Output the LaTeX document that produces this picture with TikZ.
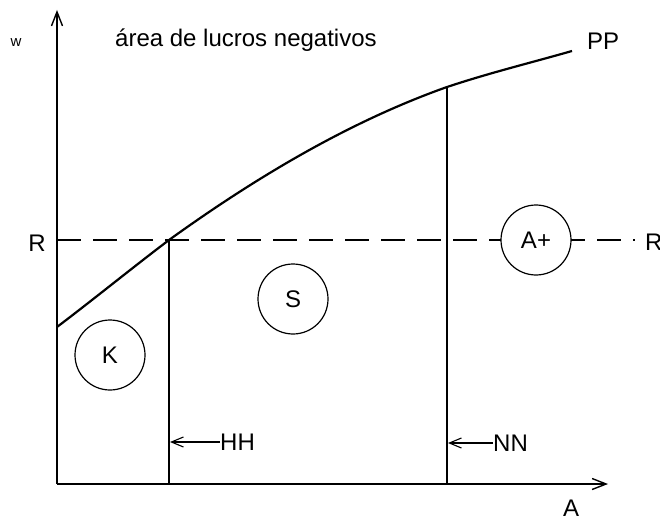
\documentclass[tikz,border=0pt]{standalone}
\usepackage{fontspec}
\setmainfont{Liberation Sans}
\usetikzlibrary{arrows.meta, positioning}

\begin{document}
\begin{tikzpicture}[
    x=1pt, y=1pt,
    every node/.style={font=\fontsize{24}{28}\selectfont, inner sep=0pt},
    axis/.style={line width=1.6pt, -{Straight Barb[length=14pt, width=11pt, line width=1.4pt]}},
    bound/.style={line width=1.2pt},
    curve/.style={line width=2.2pt},
    level/.style={line width=1.2pt, dash pattern=on 24pt off 12pt},
    pointer/.style={line width=1.1pt, shorten >=1pt, -{Straight Barb[length=12pt, width=10pt]}},
    region/.style={draw, circle, line width=1.2pt, fill=white, minimum size=70pt}
  ]
  \useasboundingbox (0,0) rectangle (660,520);

  \coordinate (o)      at (57,36);
  \coordinate (ytop)   at (57,510);
  \coordinate (xend)   at (608,36);
  \coordinate (ppbeg)  at (57,193);
  \coordinate (ppend)  at (572,469);
  \coordinate (hhtop)  at (169,280);
  \coordinate (hhbot)  at (169,36);
  \coordinate (nntop)  at (447,433);
  \coordinate (nnbot)  at (447,36);
  \coordinate (rleft)  at (57,280);
  \coordinate (rright) at (635,280);

  % R line, axes and curve
  \draw[level] (rleft) -- (rright);
  \draw[axis] (o) -- (ytop);
  \draw[axis] (o) -- (xend);
  \draw[curve] (ppbeg) .. controls (94,221) and (132,252) .. (hhtop)
                       .. controls (262,347) and (354,400) .. (nntop)
                       .. controls (489,447) and (530,457) .. (ppend);
  \draw[bound] (hhbot) -- (hhtop);
  \draw[bound] (nnbot) -- (nntop);

  \node[region] (k)  at (110,165) {K};
  \node[region] (s)  at (293,221) {S};
  \node[region] (ap) at (536,280) {A+};

  \node[anchor=base west] (title) at (115,473) {área de lucros negativos};
  \node[font=\fontsize{15}{18}\selectfont] (w) at (16,477) {w};
  \node[anchor=base west] (pp) at (587,470) {PP};
  \node[anchor=base] (rl) at (37,269) {R};
  \node[anchor=base west] (rr) at (645,270) {R};
  \node[anchor=base] (a) at (571,4) {A};

  \node[anchor=west] (hh) at (220,78) {HH};
  \node[anchor=west] (nn) at (493,77) {NN};
  \draw[pointer] (hh.west) -- (hh.west -| hhbot);
  \draw[pointer] (nn.west) -- (nn.west -| nnbot);
\end{tikzpicture}
\end{document}
